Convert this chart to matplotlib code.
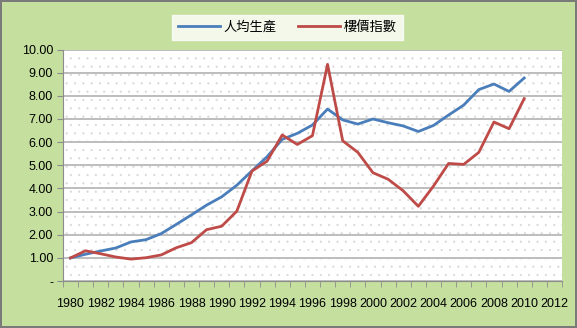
import matplotlib
matplotlib.use("Agg")
import matplotlib.pyplot as plt
import numpy as np

plt.rcParams['font.family'] = ['Liberation Sans', 'Noto Sans CJK TC', 'DejaVu Sans']
plt.rcParams['hatch.color'] = '#d6d6d6'
plt.rcParams['hatch.linewidth'] = 0.3

# 資料 (1980-2010)
years = list(range(1980, 2011))
gdp = [1.00, 1.16, 1.30, 1.43, 1.69, 1.79, 2.05, 2.45, 2.86, 3.28,
       3.64, 4.14, 4.76, 5.37, 6.12, 6.38, 6.74, 7.43, 6.96, 6.78,
       7.00, 6.84, 6.70, 6.46, 6.72, 7.17, 7.60, 8.27, 8.51, 8.19,
       8.77]
price = [1.00, 1.31, 1.18, 1.04, 0.95, 1.01, 1.13, 1.44, 1.66, 2.22,
         2.37, 3.02, 4.75, 5.18, 6.31, 5.90, 6.28, 9.36, 6.06, 5.56,
         4.68, 4.40, 3.90, 3.23, 4.10, 5.08, 5.04, 5.56, 6.87, 6.58,
         7.88]
axis_years = list(range(1980, 2013))
series_names = ['人均生產', '樓價指數']

fig = plt.figure(figsize=(5.77, 3.28), dpi=100)
fig.patch.set_facecolor('#c4df9e')
fig.patch.set_edgecolor('#7a7a7a')
fig.patch.set_linewidth(1.5)

ax = fig.add_axes([0.109, 0.143, 0.865, 0.706])
ax.set_facecolor('white')
ax.patch.set_hatch('..')
ax.patch.set_edgecolor('#d6d6d6')
ax.patch.set_linewidth(0)

x = np.arange(len(years))
ax.plot(x, gdp, color='#4a7ebb', lw=2.0, label=series_names[0])
ax.plot(x, price, color='#be4b48', lw=2.0, label=series_names[1])

ax.set_xlim(-0.5, len(axis_years) - 0.5)
ax.set_ylim(0, 10)

ax.set_yticks(np.arange(0, 11, 1))
ax.set_yticklabels(['-'] + ['%.2f' % v for v in range(1, 11)], fontsize=9)
ax.yaxis.grid(True, color='#bdbdbd', lw=1.4)
ax.set_axisbelow(True)

ax.set_xticks(np.arange(0, len(axis_years), 2))
ax.set_xticklabels([str(y) for y in axis_years[::2]], fontsize=9)
ax.set_xticks(np.arange(-0.5, len(axis_years), 1), minor=True)
ax.tick_params(axis='x', which='major', length=0, pad=12)
ax.tick_params(axis='x', which='minor', length=4, color='#8c8c8c')
ax.tick_params(axis='y', length=4, color='#8c8c8c', pad=3)

for s in ['top', 'right']:
    ax.spines[s].set_visible(False)
ax.spines['left'].set_color('#8c8c8c')
ax.spines['bottom'].set_color('#8c8c8c')

leg = fig.legend(loc='upper center', bbox_to_anchor=(0.498, 0.975), ncol=2,
                 frameon=True, fancybox=False, handlelength=3.2,
                 columnspacing=1.6, borderpad=0.45, handletextpad=0.3,
                 prop={'family': ['Noto Sans CJK TC'], 'size': 9.5})
leg.get_frame().set_edgecolor('white')
leg.get_frame().set_facecolor('white')

fig.savefig('out.png', dpi=100, facecolor=fig.get_facecolor(), edgecolor=fig.get_edgecolor())
